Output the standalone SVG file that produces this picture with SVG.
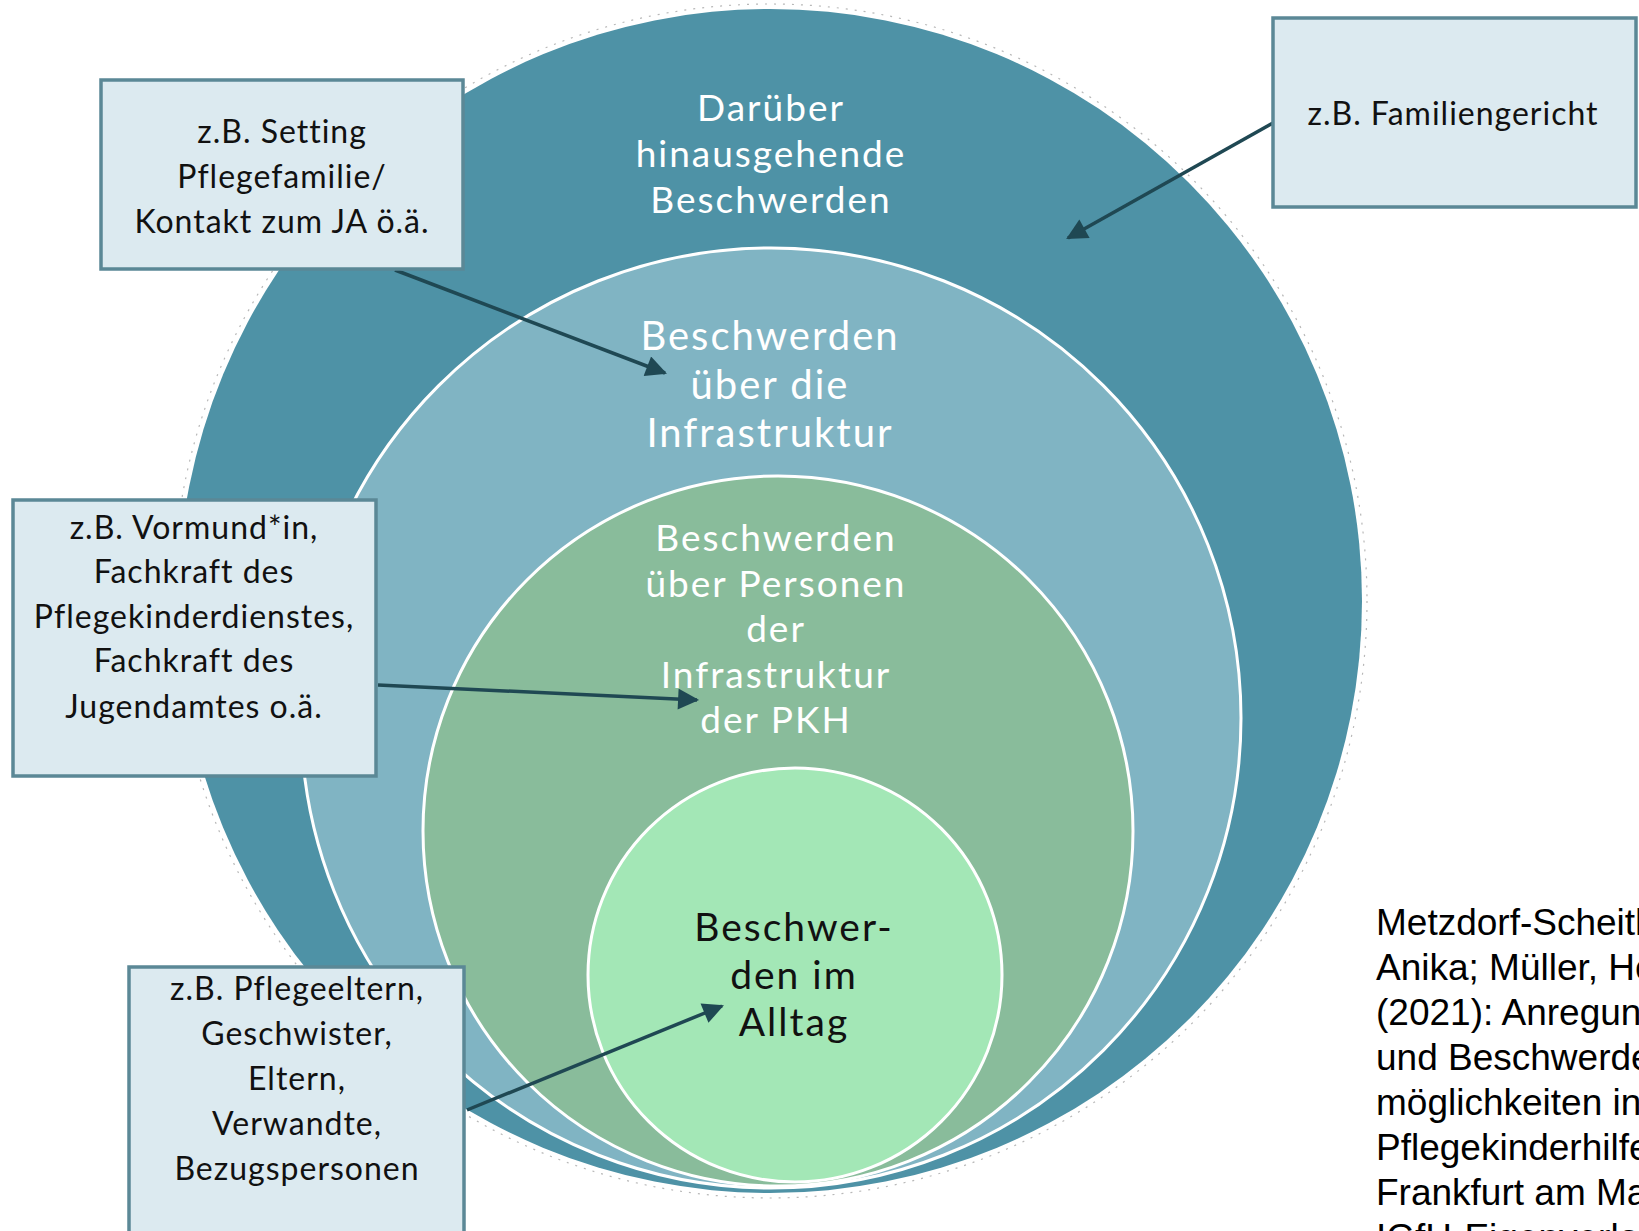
<svg xmlns="http://www.w3.org/2000/svg" width="1639" height="1231" viewBox="0 0 1639 1231">
  <style>
    .box { fill: #DCEAF0; stroke: #5B8896; stroke-width: 3.5; }
    .bt { font-family: Lato, "Noto Sans", "DejaVu Sans", sans-serif; font-size: 32px; fill: #111111; text-anchor: middle; letter-spacing: 1px; }
    .wt { font-family: Lato, "Noto Sans", "DejaVu Sans", sans-serif; fill: #ffffff; text-anchor: middle; letter-spacing: 2px; }
    .kt { font-family: Lato, "Noto Sans", "DejaVu Sans", sans-serif; fill: #111111; text-anchor: middle; letter-spacing: 2px; }
    .ring { stroke: #ffffff; stroke-width: 3; }
    .conn { stroke: #1F4853; stroke-width: 3.5; fill: none; marker-end: url(#ah); }
    .cite { font-family: "Liberation Sans", Arial, sans-serif; font-size: 37px; fill: #000000; }
  </style>
  <defs>
    <marker id="ah" viewBox="0 0 10 10" refX="9" refY="5" markerWidth="7" markerHeight="6" markerUnits="strokeWidth" orient="auto">
      <path d="M0,0 L10,5 L0,10 z" fill="#1F4853"/>
    </marker>
  </defs>
  <rect width="1639" height="1231" fill="#ffffff"/>

  <g id="circles">
    <circle id="outer-outline" cx="770" cy="601" r="597" fill="none" stroke="#b8b8b8" stroke-width="1.2" stroke-dasharray="2 7"/>
    <g id="c-outer">
      <circle cx="770" cy="601" r="592" fill="#4E92A6"/>
      <text class="wt" font-size="37" x="771" y="121">Darüber</text>
      <text class="wt" font-size="37" x="771" y="167">hinausgehende</text>
      <text class="wt" font-size="37" x="771" y="213">Beschwerden</text>
    </g>
    <g id="c-infra">
      <circle class="ring" cx="771" cy="718" r="470" fill="#80B4C3"/>
      <text class="wt" font-size="40" x="770" y="350">Beschwerden</text>
      <text class="wt" font-size="40" x="770" y="399">über die</text>
      <text class="wt" font-size="40" x="770" y="447" letter-spacing="1">Infrastruktur</text>
    </g>
    <g id="c-personen">
      <circle class="ring" cx="778" cy="831" r="355" fill="#89BC9B"/>
      <text class="wt" font-size="37" x="776" y="551">Beschwerden</text>
      <text class="wt" font-size="37" x="776" y="597">über Personen</text>
      <text class="wt" font-size="37" x="776" y="642">der</text>
      <text class="wt" font-size="37" x="776" y="688">Infrastruktur</text>
      <text class="wt" font-size="37" x="776" y="733">der PKH</text>
    </g>
    <g id="c-alltag">
      <circle class="ring" cx="795" cy="975" r="207" fill="#A3E7B6"/>
      <text class="kt" font-size="39" x="794" y="941">Beschwer-</text>
      <text class="kt" font-size="39" x="794" y="989">den im</text>
      <text class="kt" font-size="39" x="794" y="1036">Alltag</text>
    </g>
  </g>

  <g id="connectors">
    <line class="conn" x1="395" y1="270" x2="665" y2="373"/>
    <line class="conn" x1="1273" y1="123" x2="1068" y2="238"/>
    <line class="conn" x1="378" y1="685" x2="697" y2="700"/>
    <line class="conn" x1="467" y1="1110" x2="722" y2="1006"/>
  </g>

  <g id="box-setting">
    <rect class="box" x="101" y="80" width="362" height="189"/>
    <text class="bt" x="282" y="143">z.B. Setting</text>
    <text class="bt" x="282" y="188">Pflegefamilie/</text>
    <text class="bt" x="282" y="233">Kontakt zum JA ö.ä.</text>
  </g>
  <g id="box-familiengericht">
    <rect class="box" x="1273" y="18" width="363" height="189"/>
    <text class="bt" x="1453" y="125">z.B. Familiengericht</text>
  </g>
  <g id="box-vormund">
    <rect class="box" x="13" y="500" width="363" height="276"/>
    <text class="bt" x="194" y="539">z.B. Vormund*in,</text>
    <text class="bt" x="194" y="583">Fachkraft des</text>
    <text class="bt" x="194" y="628">Pflegekinderdienstes,</text>
    <text class="bt" x="194" y="672">Fachkraft des</text>
    <text class="bt" x="194" y="718">Jugendamtes o.ä.</text>
  </g>
  <g id="box-pflegeeltern">
    <rect class="box" x="129" y="967" width="335" height="280"/>
    <text class="bt" x="297" y="1000">z.B. Pflegeeltern,</text>
    <text class="bt" x="297" y="1045">Geschwister,</text>
    <text class="bt" x="297" y="1090">Eltern,</text>
    <text class="bt" x="297" y="1135">Verwandte,</text>
    <text class="bt" x="297" y="1180">Bezugspersonen</text>
  </g>

  <g id="citation">
    <text class="cite" x="1376" y="935">Metzdorf-Scheith</text>
    <text class="cite" x="1376" y="980">Anika; Müller, He</text>
    <text class="cite" x="1376" y="1025">(2021): Anregung</text>
    <text class="cite" x="1376" y="1070">und Beschwerde</text>
    <text class="cite" x="1376" y="1115">möglichkeiten in</text>
    <text class="cite" x="1376" y="1160">Pflegekinderhilfe</text>
    <text class="cite" x="1376" y="1205">Frankfurt am Ma</text>
    <text class="cite" x="1376" y="1250">IGfH-Eigenverla</text>
  </g>
</svg>
